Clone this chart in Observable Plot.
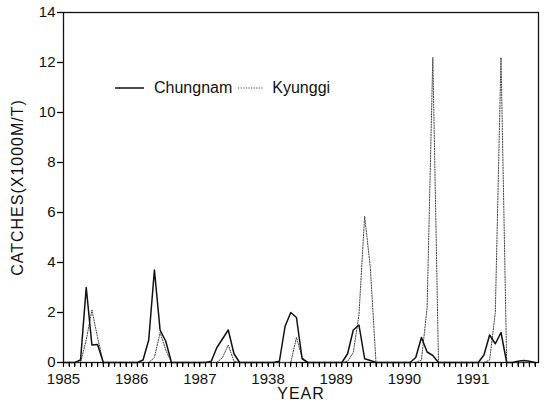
<!DOCTYPE html>
<html>
<head>
<meta charset="utf-8">
<script src="https://cdn.jsdelivr.net/npm/d3@7"></script>
<script src="https://cdn.jsdelivr.net/npm/@observablehq/plot@0.6"></script>
<style>
  html, body { margin: 0; padding: 0; background: #fff; }
  #wrap { position: relative; width: 544px; height: 404px; font-family: "Liberation Sans", Arial, Helvetica, sans-serif; }
  #legend { position: absolute; left: 115px; top: 79px; display: flex; align-items: center; font-size: 16px; color: #111; }
  #legend svg { display: block; }
</style>
</head>
<body>
<div id="wrap"></div>
<script>
// Month index: 0 = Jan 1985 ... 83 = Dec 1991
const chungnam = [
  0,0,0,0.1,3.0,0.7,0.72,0,0,0,0,0,            // 1985
  0,0,0.1,0.9,3.7,1.3,0.85,0,0,0,0,0,          // 1986
  0,0,0.05,0.6,0.95,1.3,0.35,0,0,0,0,0,        // 1987
  0,0,0.05,1.45,2.0,1.8,0.15,0,0,0,0,0,        // 1988
  0,0,0.35,1.3,1.5,0.15,0.08,0,0,0,0,0,        // 1989
  0,0,0.2,1.0,0.42,0.28,0,0,0,0,0,0,           // 1990
  0,0,0.3,1.1,0.75,1.2,0,0,0.05,0.08,0.05,0    // 1991
];
const kyunggi = [
  0,0,0,0,0.9,2.1,1.0,0,0,0,0,0,               // 1985
  0,0,0,0,0.2,1.2,0.5,0,0,0,0,0,               // 1986
  0,0,0,0,0.2,0.7,0.05,0,0,0,0,0,              // 1987
  0,0,0,0,0,1.0,0.2,0,0,0,0,0,                 // 1988
  0,0,0.05,0.4,1.9,5.85,3.8,0,0,0,0,0,         // 1989
  0,0,0,0.1,2.2,12.2,0,0,0,0,0,0,              // 1990
  0,0,0,0.1,2.0,12.2,0,0,0,0,0,0               // 1991
];
const yearLabels = ["1985","1986","1987","1938","1989","1990","1991"];
const yearTicks = yearLabels.map((_, i) => i * 12);
const monthTicks = d3.range(0, 84);
const yTicks = [0,2,4,6,8,10,12,14];
const yTitle = "CATCHES(X1000M/T)";
const xTitle = "YEAR";

const rows = [];
chungnam.forEach((v, i) => rows.push({month: i, value: v, region: "Chungnam"}));
kyunggi.forEach((v, i) => rows.push({month: i, value: v, region: "Kyunggi"}));

const chart = Plot.plot({
  width: 544,
  height: 404,
  marginLeft: 63,
  marginRight: 6,
  marginTop: 12,
  marginBottom: 42,
  style: {fontFamily: '"Liberation Sans", Arial, Helvetica, sans-serif', fontSize: "15px", color: "#111", background: "#fff"},
  x: {domain: [0, 83.6]},
  y: {domain: [0, 14]},
  marks: [
    Plot.frame({stroke: "#111", strokeWidth: 1.3}),
    Plot.axisY({ticks: yTicks, tickSize: 6, tickPadding: 2, strokeWidth: 1.3, label: yTitle, labelAnchor: "center", labelOffset: 52, fontSize: 15}),
    Plot.ruleX(monthTicks, {x: d => d, y1: 0, y2: -0.18, stroke: "#000", strokeWidth: 1.2, clip: false}),
    Plot.axisX({ticks: yearTicks, tickSize: 0, tickPadding: 11, tickFormat: (d, i) => yearLabels[i], label: xTitle, labelAnchor: "center", labelOffset: 36, fontSize: 15}),
    Plot.line(rows.filter(d => d.region === "Kyunggi"), {x: "month", y: "value", stroke: "#444", strokeWidth: 1, strokeDasharray: "1.2 1.4"}),
    Plot.line(rows.filter(d => d.region === "Chungnam"), {x: "month", y: "value", stroke: "#111", strokeWidth: 1.5})
  ]
});

const wrap = document.getElementById("wrap");
wrap.appendChild(chart);

// Backup tick marks placed with Plot's own scales (monthly on x, every 2 on y)
const sx = chart.scale("x"), sy = chart.scale("y");
const g = d3.select(chart).append("g").attr("stroke", "#000").attr("stroke-width", 1.2).attr("shape-rendering", "crispEdges");
const y0 = sy.apply(0);
monthTicks.forEach(m => {
  const px = Math.round(sx.apply(m)) + 0.5;
  g.append("line").attr("x1", px).attr("x2", px).attr("y1", y0).attr("y2", y0 + 4.5);
});
const x0 = sx.apply(0);
yTicks.forEach(v => {
  const py = Math.round(sy.apply(v)) + 0.5;
  g.append("line").attr("x1", x0 - 6).attr("x2", x0).attr("y1", py).attr("y2", py);
});

// axis titles without arrows, slight letter spacing
d3.select(chart).selectAll('[aria-label="y-axis label"] text').text(yTitle).style("letter-spacing", "1px").style("font-size", "16px");
d3.select(chart).selectAll('[aria-label="x-axis label"] text').text(xTitle).style("letter-spacing", "1px").style("font-size", "16px");

// Legend overlay
const legend = document.createElement("div");
legend.id = "legend";
legend.innerHTML = `
  <svg width="30" height="10"><line x1="0" y1="5" x2="29" y2="5" stroke="#111" stroke-width="1.5"/></svg>
  <span style="margin-left:9px">Chungnam</span>
  <svg width="30" height="10" style="margin-left:6px"><line x1="0" y1="5" x2="26" y2="5" stroke="#444" stroke-width="1" stroke-dasharray="1.2 1.4"/></svg>
  <span style="margin-left:4px">Kyunggi</span>`;
wrap.appendChild(legend);
</script>
</body>
</html>
